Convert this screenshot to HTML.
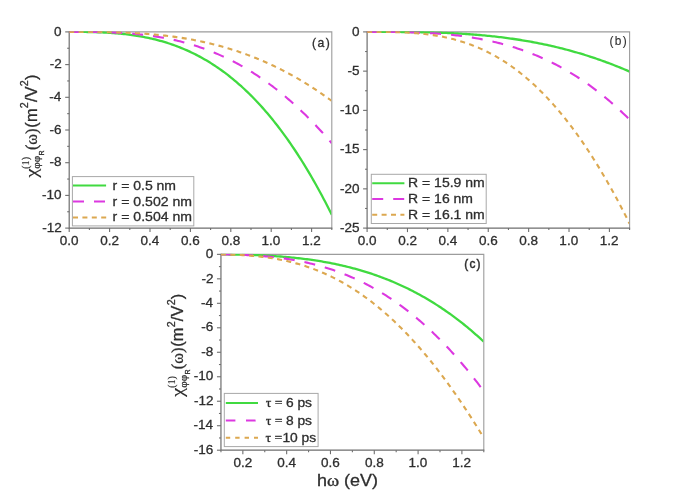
<!DOCTYPE html>
<html><head><meta charset="utf-8"><style>
html,body{margin:0;padding:0;background:#fff;overflow:hidden;}
svg{display:block;filter:blur(0.3px);}
text{stroke:#2e2e2e;stroke-width:0.3px;}
</style></head><body>
<svg width="685" height="496" viewBox="0 0 685 496">
<defs><clipPath id="clipa"><rect x="69.2" y="31.299999999999997" width="262.05" height="196.79999999999998"/></clipPath><clipPath id="clipb"><rect x="367.1" y="31.299999999999997" width="261.95" height="196.79999999999998"/></clipPath><clipPath id="clipc"><rect x="220.95" y="253.75" width="262.30" height="196.45"/></clipPath></defs>
<rect width="685" height="496" fill="#fff"/>
<path d="M69.2,31.9H331.8V228.1" fill="none" stroke="#9c9c9c" stroke-width="1.1"/>
<path d="M69.2,31.4V228.1H332.3" fill="none" stroke="#6e6e6e" stroke-width="1.2"/>
<g clip-path="url(#clipa)">
<polyline points="69.20,31.90 70.85,31.90 72.50,31.90 74.15,31.90 75.81,31.91 77.46,31.91 79.11,31.92 80.76,31.93 82.41,31.94 84.06,31.96 85.72,31.97 87.37,32.00 89.02,32.02 90.67,32.05 92.32,32.09 93.97,32.13 95.63,32.18 97.28,32.23 98.93,32.28 100.58,32.35 102.23,32.42 103.88,32.49 105.53,32.57 107.19,32.66 108.84,32.76 110.49,32.86 112.14,32.98 113.79,33.10 115.44,33.23 117.10,33.36 118.75,33.51 120.40,33.66 122.05,33.83 123.70,34.00 125.35,34.19 127.01,34.38 128.66,34.59 130.31,34.80 131.96,35.03 133.61,35.26 135.26,35.51 136.91,35.77 138.57,36.05 140.22,36.33 141.87,36.63 143.52,36.93 145.17,37.26 146.82,37.59 148.48,37.94 150.13,38.30 151.78,38.68 153.43,39.07 155.08,39.47 156.73,39.89 158.38,40.32 160.04,40.77 161.69,41.23 163.34,41.71 164.99,42.20 166.64,42.71 168.29,43.24 169.95,43.78 171.60,44.34 173.25,44.92 174.90,45.51 176.55,46.12 178.20,46.75 179.86,47.40 181.51,48.06 183.16,48.74 184.81,49.44 186.46,50.16 188.11,50.90 189.76,51.66 191.42,52.44 193.07,53.24 194.72,54.05 196.37,54.89 198.02,55.75 199.67,56.63 201.33,57.52 202.98,58.44 204.63,59.39 206.28,60.35 207.93,61.33 209.58,62.34 211.24,63.37 212.89,64.42 214.54,65.50 216.19,66.60 217.84,67.72 219.49,68.86 221.14,70.03 222.80,71.22 224.45,72.44 226.10,73.68 227.75,74.94 229.40,76.23 231.05,77.55 232.71,78.89 234.36,80.26 236.01,81.65 237.66,83.07 239.31,84.51 240.96,85.98 242.62,87.48 244.27,89.00 245.92,90.56 247.57,92.14 249.22,93.74 250.87,95.38 252.52,97.04 254.18,98.73 255.83,100.45 257.48,102.20 259.13,103.98 260.78,105.79 262.43,107.63 264.09,109.50 265.74,111.40 267.39,113.32 269.04,115.28 270.69,117.27 272.34,119.29 273.99,121.35 275.65,123.43 277.30,125.54 278.95,127.69 280.60,129.87 282.25,132.08 283.90,134.33 285.56,136.61 287.21,138.92 288.86,141.27 290.51,143.64 292.16,146.06 293.81,148.50 295.47,150.99 297.12,153.50 298.77,156.05 300.42,158.64 302.07,161.26 303.72,163.92 305.37,166.61 307.03,169.34 308.68,172.11 310.33,174.91 311.98,177.75 313.63,180.63 315.28,183.54 316.94,186.50 318.59,189.49 320.24,192.51 321.89,195.58 323.54,198.69 325.19,201.83 326.85,205.01 328.50,208.24 330.15,211.50 331.80,214.80" fill="none" stroke="#40da40" stroke-width="2.3"/>
<polyline points="69.20,31.90 70.85,31.90 72.50,31.90 74.15,31.90 75.81,31.90 77.46,31.90 79.11,31.91 80.76,31.91 82.41,31.92 84.06,31.92 85.72,31.93 87.37,31.94 89.02,31.96 90.67,31.97 92.32,31.99 93.97,32.01 95.63,32.03 97.28,32.06 98.93,32.09 100.58,32.12 102.23,32.16 103.88,32.20 105.53,32.24 107.19,32.29 108.84,32.35 110.49,32.40 112.14,32.47 113.79,32.54 115.44,32.61 117.10,32.69 118.75,32.77 120.40,32.86 122.05,32.96 123.70,33.06 125.35,33.17 127.01,33.28 128.66,33.40 130.31,33.53 131.96,33.66 133.61,33.81 135.26,33.96 136.91,34.11 138.57,34.28 140.22,34.45 141.87,34.63 143.52,34.82 145.17,35.01 146.82,35.22 148.48,35.43 150.13,35.65 151.78,35.88 153.43,36.12 155.08,36.37 156.73,36.63 158.38,36.90 160.04,37.18 161.69,37.47 163.34,37.76 164.99,38.07 166.64,38.39 168.29,38.72 169.95,39.06 171.60,39.41 173.25,39.77 174.90,40.14 176.55,40.53 178.20,40.92 179.86,41.33 181.51,41.74 183.16,42.17 184.81,42.62 186.46,43.07 188.11,43.53 189.76,44.01 191.42,44.50 193.07,45.01 194.72,45.52 196.37,46.05 198.02,46.59 199.67,47.14 201.33,47.71 202.98,48.29 204.63,48.89 206.28,49.49 207.93,50.11 209.58,50.75 211.24,51.40 212.89,52.06 214.54,52.74 216.19,53.43 217.84,54.14 219.49,54.86 221.14,55.59 222.80,56.34 224.45,57.11 226.10,57.89 227.75,58.68 229.40,59.49 231.05,60.32 232.71,61.16 234.36,62.01 236.01,62.88 237.66,63.77 239.31,64.68 240.96,65.59 242.62,66.53 244.27,67.48 245.92,68.45 247.57,69.43 249.22,70.43 250.87,71.45 252.52,72.48 254.18,73.53 255.83,74.60 257.48,75.68 259.13,76.78 260.78,77.90 262.43,79.04 264.09,80.19 265.74,81.36 267.39,82.55 269.04,83.75 270.69,84.97 272.34,86.21 273.99,87.47 275.65,88.75 277.30,90.04 278.95,91.35 280.60,92.68 282.25,94.03 283.90,95.39 285.56,96.78 287.21,98.18 288.86,99.60 290.51,101.04 292.16,102.50 293.81,103.98 295.47,105.47 297.12,106.99 298.77,108.52 300.42,110.07 302.07,111.65 303.72,113.24 305.37,114.85 307.03,116.48 308.68,118.13 310.33,119.79 311.98,121.48 313.63,123.19 315.28,124.91 316.94,126.66 318.59,128.43 320.24,130.21 321.89,132.02 323.54,133.84 325.19,135.69 326.85,137.56 328.50,139.44 330.15,141.35 331.80,143.27" fill="none" stroke="#dc38e0" stroke-width="2.1" stroke-dasharray="11 10"/>
<polyline points="69.20,31.90 70.85,31.90 72.50,31.90 74.15,31.90 75.81,31.90 77.46,31.90 79.11,31.90 80.76,31.91 82.41,31.91 84.06,31.91 85.72,31.92 87.37,31.92 89.02,31.93 90.67,31.94 92.32,31.95 93.97,31.96 95.63,31.98 97.28,31.99 98.93,32.01 100.58,32.03 102.23,32.05 103.88,32.08 105.53,32.10 107.19,32.13 108.84,32.16 110.49,32.20 112.14,32.24 113.79,32.28 115.44,32.32 117.10,32.37 118.75,32.42 120.40,32.47 122.05,32.53 123.70,32.59 125.35,32.65 127.01,32.72 128.66,32.80 130.31,32.87 131.96,32.95 133.61,33.04 135.26,33.13 136.91,33.22 138.57,33.32 140.22,33.42 141.87,33.53 143.52,33.65 145.17,33.77 146.82,33.89 148.48,34.02 150.13,34.15 151.78,34.29 153.43,34.44 155.08,34.59 156.73,34.74 158.38,34.91 160.04,35.08 161.69,35.25 163.34,35.43 164.99,35.62 166.64,35.81 168.29,36.01 169.95,36.22 171.60,36.43 173.25,36.65 174.90,36.88 176.55,37.11 178.20,37.35 179.86,37.60 181.51,37.85 183.16,38.11 184.81,38.38 186.46,38.66 188.11,38.94 189.76,39.23 191.42,39.53 193.07,39.84 194.72,40.16 196.37,40.48 198.02,40.81 199.67,41.15 201.33,41.50 202.98,41.85 204.63,42.22 206.28,42.59 207.93,42.97 209.58,43.36 211.24,43.76 212.89,44.16 214.54,44.58 216.19,45.00 217.84,45.44 219.49,45.88 221.14,46.33 222.80,46.79 224.45,47.26 226.10,47.74 227.75,48.23 229.40,48.73 231.05,49.24 232.71,49.76 234.36,50.29 236.01,50.82 237.66,51.37 239.31,51.93 240.96,52.50 242.62,53.07 244.27,53.66 245.92,54.26 247.57,54.87 249.22,55.49 250.87,56.12 252.52,56.76 254.18,57.41 255.83,58.07 257.48,58.74 259.13,59.42 260.78,60.11 262.43,60.82 264.09,61.53 265.74,62.26 267.39,62.99 269.04,63.74 270.69,64.50 272.34,65.27 273.99,66.05 275.65,66.85 277.30,67.65 278.95,68.47 280.60,69.29 282.25,70.13 283.90,70.98 285.56,71.85 287.21,72.72 288.86,73.61 290.51,74.50 292.16,75.41 293.81,76.33 295.47,77.27 297.12,78.21 298.77,79.17 300.42,80.14 302.07,81.12 303.72,82.12 305.37,83.12 307.03,84.14 308.68,85.18 310.33,86.22 311.98,87.28 313.63,88.34 315.28,89.43 316.94,90.52 318.59,91.63 320.24,92.75 321.89,93.88 323.54,95.03 325.19,96.18 326.85,97.35 328.50,98.54 330.15,99.74 331.80,100.95" fill="none" stroke="#dca850" stroke-width="2.1" stroke-dasharray="5 4.4"/>
</g>
<line x1="65.2" y1="31.90" x2="69.2" y2="31.90" stroke="#6e6e6e" stroke-width="1.1"/>
<text transform="translate(54.01,35.60) scale(1.0400,1)" fill="#2e2e2e" ><tspan y="0.00" font-family='"Liberation Sans", sans-serif' font-size="13.0">0</tspan></text>
<line x1="67.2" y1="48.25" x2="69.2" y2="48.25" stroke="#6e6e6e" stroke-width="1.1"/>
<line x1="65.2" y1="64.60" x2="69.2" y2="64.60" stroke="#6e6e6e" stroke-width="1.1"/>
<text transform="translate(49.66,68.30) scale(1.0400,1)" fill="#2e2e2e" ><tspan y="0.00" font-family='"Liberation Sans", sans-serif' font-size="13.0">-2</tspan></text>
<line x1="67.2" y1="80.95" x2="69.2" y2="80.95" stroke="#6e6e6e" stroke-width="1.1"/>
<line x1="65.2" y1="97.30" x2="69.2" y2="97.30" stroke="#6e6e6e" stroke-width="1.1"/>
<text transform="translate(49.37,101.00) scale(1.0400,1)" fill="#2e2e2e" ><tspan y="0.00" font-family='"Liberation Sans", sans-serif' font-size="13.0">-4</tspan></text>
<line x1="67.2" y1="113.65" x2="69.2" y2="113.65" stroke="#6e6e6e" stroke-width="1.1"/>
<line x1="65.2" y1="130.00" x2="69.2" y2="130.00" stroke="#6e6e6e" stroke-width="1.1"/>
<text transform="translate(49.57,133.70) scale(1.0400,1)" fill="#2e2e2e" ><tspan y="0.00" font-family='"Liberation Sans", sans-serif' font-size="13.0">-6</tspan></text>
<line x1="67.2" y1="146.35" x2="69.2" y2="146.35" stroke="#6e6e6e" stroke-width="1.1"/>
<line x1="65.2" y1="162.70" x2="69.2" y2="162.70" stroke="#6e6e6e" stroke-width="1.1"/>
<text transform="translate(49.57,166.40) scale(1.0400,1)" fill="#2e2e2e" ><tspan y="0.00" font-family='"Liberation Sans", sans-serif' font-size="13.0">-8</tspan></text>
<line x1="67.2" y1="179.05" x2="69.2" y2="179.05" stroke="#6e6e6e" stroke-width="1.1"/>
<line x1="65.2" y1="195.40" x2="69.2" y2="195.40" stroke="#6e6e6e" stroke-width="1.1"/>
<text transform="translate(41.99,199.10) scale(1.0400,1)" fill="#2e2e2e" ><tspan y="0.00" font-family='"Liberation Sans", sans-serif' font-size="13.0">-10</tspan></text>
<line x1="67.2" y1="211.75" x2="69.2" y2="211.75" stroke="#6e6e6e" stroke-width="1.1"/>
<line x1="65.2" y1="228.10" x2="69.2" y2="228.10" stroke="#6e6e6e" stroke-width="1.1"/>
<text transform="translate(42.14,231.80) scale(1.0400,1)" fill="#2e2e2e" ><tspan y="0.00" font-family='"Liberation Sans", sans-serif' font-size="13.0">-12</tspan></text>
<line x1="69.20" y1="228.1" x2="69.20" y2="232.1" stroke="#6e6e6e" stroke-width="1.1"/>
<text transform="translate(59.80,244.50) scale(1.0400,1)" fill="#2e2e2e" ><tspan y="0.00" font-family='"Liberation Sans", sans-serif' font-size="13.0">0.0</tspan></text>
<line x1="89.40" y1="228.1" x2="89.40" y2="230.1" stroke="#6e6e6e" stroke-width="1.1"/>
<line x1="109.60" y1="228.1" x2="109.60" y2="232.1" stroke="#6e6e6e" stroke-width="1.1"/>
<text transform="translate(100.28,244.50) scale(1.0400,1)" fill="#2e2e2e" ><tspan y="0.00" font-family='"Liberation Sans", sans-serif' font-size="13.0">0.2</tspan></text>
<line x1="129.80" y1="228.1" x2="129.80" y2="230.1" stroke="#6e6e6e" stroke-width="1.1"/>
<line x1="150.00" y1="228.1" x2="150.00" y2="232.1" stroke="#6e6e6e" stroke-width="1.1"/>
<text transform="translate(140.54,244.50) scale(1.0400,1)" fill="#2e2e2e" ><tspan y="0.00" font-family='"Liberation Sans", sans-serif' font-size="13.0">0.4</tspan></text>
<line x1="170.20" y1="228.1" x2="170.20" y2="230.1" stroke="#6e6e6e" stroke-width="1.1"/>
<line x1="190.40" y1="228.1" x2="190.40" y2="232.1" stroke="#6e6e6e" stroke-width="1.1"/>
<text transform="translate(181.04,244.50) scale(1.0400,1)" fill="#2e2e2e" ><tspan y="0.00" font-family='"Liberation Sans", sans-serif' font-size="13.0">0.6</tspan></text>
<line x1="210.60" y1="228.1" x2="210.60" y2="230.1" stroke="#6e6e6e" stroke-width="1.1"/>
<line x1="230.80" y1="228.1" x2="230.80" y2="232.1" stroke="#6e6e6e" stroke-width="1.1"/>
<text transform="translate(221.43,244.50) scale(1.0400,1)" fill="#2e2e2e" ><tspan y="0.00" font-family='"Liberation Sans", sans-serif' font-size="13.0">0.8</tspan></text>
<line x1="251.00" y1="228.1" x2="251.00" y2="230.1" stroke="#6e6e6e" stroke-width="1.1"/>
<line x1="271.20" y1="228.1" x2="271.20" y2="232.1" stroke="#6e6e6e" stroke-width="1.1"/>
<text transform="translate(261.55,244.50) scale(1.0400,1)" fill="#2e2e2e" ><tspan y="0.00" font-family='"Liberation Sans", sans-serif' font-size="13.0">1.0</tspan></text>
<line x1="291.40" y1="228.1" x2="291.40" y2="230.1" stroke="#6e6e6e" stroke-width="1.1"/>
<line x1="311.60" y1="228.1" x2="311.60" y2="232.1" stroke="#6e6e6e" stroke-width="1.1"/>
<text transform="translate(302.03,244.50) scale(1.0400,1)" fill="#2e2e2e" ><tspan y="0.00" font-family='"Liberation Sans", sans-serif' font-size="13.0">1.2</tspan></text>
<line x1="331.80" y1="228.1" x2="331.80" y2="230.1" stroke="#6e6e6e" stroke-width="1.1"/>
<path d="M367.1,31.9H629.6V228.1" fill="none" stroke="#9c9c9c" stroke-width="1.1"/>
<path d="M367.1,31.4V228.1H630.1" fill="none" stroke="#6e6e6e" stroke-width="1.2"/>
<g clip-path="url(#clipb)">
<polyline points="367.10,31.90 368.75,31.90 370.40,31.90 372.05,31.90 373.70,31.90 375.35,31.90 377.01,31.90 378.66,31.90 380.31,31.90 381.96,31.91 383.61,31.91 385.26,31.91 386.91,31.91 388.56,31.92 390.21,31.92 391.86,31.93 393.52,31.93 395.17,31.94 396.82,31.95 398.47,31.96 400.12,31.97 401.77,31.98 403.42,31.99 405.07,32.00 406.72,32.02 408.37,32.04 410.02,32.05 411.68,32.07 413.33,32.09 414.98,32.12 416.63,32.14 418.28,32.17 419.93,32.20 421.58,32.23 423.23,32.26 424.88,32.29 426.53,32.33 428.18,32.37 429.84,32.41 431.49,32.45 433.14,32.50 434.79,32.55 436.44,32.60 438.09,32.65 439.74,32.71 441.39,32.76 443.04,32.83 444.69,32.89 446.35,32.96 448.00,33.03 449.65,33.10 451.30,33.18 452.95,33.26 454.60,33.34 456.25,33.43 457.90,33.52 459.55,33.61 461.20,33.71 462.85,33.81 464.51,33.91 466.16,34.02 467.81,34.13 469.46,34.24 471.11,34.36 472.76,34.48 474.41,34.61 476.06,34.74 477.71,34.88 479.36,35.02 481.02,35.16 482.67,35.31 484.32,35.46 485.97,35.62 487.62,35.78 489.27,35.94 490.92,36.11 492.57,36.29 494.22,36.46 495.87,36.65 497.52,36.84 499.18,37.03 500.83,37.23 502.48,37.43 504.13,37.64 505.78,37.85 507.43,38.07 509.08,38.30 510.73,38.53 512.38,38.76 514.03,39.00 515.68,39.24 517.34,39.49 518.99,39.75 520.64,40.01 522.29,40.28 523.94,40.55 525.59,40.83 527.24,41.11 528.89,41.40 530.54,41.70 532.19,42.00 533.85,42.30 535.50,42.62 537.15,42.94 538.80,43.26 540.45,43.59 542.10,43.93 543.75,44.27 545.40,44.62 547.05,44.98 548.70,45.34 550.35,45.71 552.01,46.08 553.66,46.47 555.31,46.85 556.96,47.25 558.61,47.65 560.26,48.06 561.91,48.47 563.56,48.89 565.21,49.32 566.86,49.75 568.52,50.19 570.17,50.64 571.82,51.10 573.47,51.56 575.12,52.03 576.77,52.50 578.42,52.98 580.07,53.47 581.72,53.97 583.37,54.47 585.02,54.99 586.68,55.50 588.33,56.03 589.98,56.56 591.63,57.10 593.28,57.65 594.93,58.20 596.58,58.77 598.23,59.34 599.88,59.91 601.53,60.50 603.18,61.09 604.84,61.69 606.49,62.30 608.14,62.91 609.79,63.53 611.44,64.16 613.09,64.80 614.74,65.45 616.39,66.10 618.04,66.76 619.69,67.43 621.35,68.11 623.00,68.79 624.65,69.48 626.30,70.18 627.95,70.89 629.60,71.61" fill="none" stroke="#40da40" stroke-width="2.3"/>
<polyline points="367.10,31.90 368.75,31.90 370.40,31.90 372.05,31.90 373.70,31.90 375.35,31.90 377.01,31.90 378.66,31.91 380.31,31.91 381.96,31.92 383.61,31.92 385.26,31.93 386.91,31.94 388.56,31.95 390.21,31.96 391.86,31.97 393.52,31.99 395.17,32.01 396.82,32.03 398.47,32.05 400.12,32.08 401.77,32.10 403.42,32.13 405.07,32.17 406.72,32.20 408.37,32.24 410.02,32.29 411.68,32.33 413.33,32.38 414.98,32.44 416.63,32.49 418.28,32.55 419.93,32.62 421.58,32.69 423.23,32.76 424.88,32.84 426.53,32.92 428.18,33.01 429.84,33.10 431.49,33.20 433.14,33.30 434.79,33.41 436.44,33.53 438.09,33.64 439.74,33.77 441.39,33.90 443.04,34.04 444.69,34.18 446.35,34.33 448.00,34.48 449.65,34.64 451.30,34.81 452.95,34.98 454.60,35.17 456.25,35.35 457.90,35.55 459.55,35.75 461.20,35.96 462.85,36.18 464.51,36.40 466.16,36.64 467.81,36.88 469.46,37.13 471.11,37.38 472.76,37.65 474.41,37.92 476.06,38.20 477.71,38.49 479.36,38.79 481.02,39.10 482.67,39.42 484.32,39.75 485.97,40.08 487.62,40.43 489.27,40.78 490.92,41.15 492.57,41.52 494.22,41.90 495.87,42.30 497.52,42.70 499.18,43.12 500.83,43.54 502.48,43.98 504.13,44.43 505.78,44.88 507.43,45.35 509.08,45.83 510.73,46.32 512.38,46.83 514.03,47.34 515.68,47.87 517.34,48.40 518.99,48.95 520.64,49.51 522.29,50.09 523.94,50.67 525.59,51.27 527.24,51.88 528.89,52.51 530.54,53.14 532.19,53.79 533.85,54.45 535.50,55.13 537.15,55.82 538.80,56.52 540.45,57.24 542.10,57.97 543.75,58.71 545.40,59.47 547.05,60.24 548.70,61.02 550.35,61.82 552.01,62.64 553.66,63.47 555.31,64.31 556.96,65.17 558.61,66.04 560.26,66.93 561.91,67.84 563.56,68.76 565.21,69.69 566.86,70.64 568.52,71.61 570.17,72.59 571.82,73.59 573.47,74.60 575.12,75.63 576.77,76.68 578.42,77.75 580.07,78.83 581.72,79.92 583.37,81.04 585.02,82.17 586.68,83.32 588.33,84.48 589.98,85.67 591.63,86.87 593.28,88.09 594.93,89.32 596.58,90.58 598.23,91.85 599.88,93.14 601.53,94.45 603.18,95.78 604.84,97.12 606.49,98.49 608.14,99.87 609.79,101.27 611.44,102.70 613.09,104.14 614.74,105.60 616.39,107.08 618.04,108.58 619.69,110.10 621.35,111.63 623.00,113.19 624.65,114.77 626.30,116.37 627.95,117.99 629.60,119.63" fill="none" stroke="#dc38e0" stroke-width="2.1" stroke-dasharray="11 10"/>
<polyline points="367.10,31.90 368.75,31.90 370.40,31.90 372.05,31.90 373.70,31.90 375.35,31.90 377.01,31.91 378.66,31.91 380.31,31.92 381.96,31.93 383.61,31.94 385.26,31.96 386.91,31.97 388.56,31.99 390.21,32.02 391.86,32.05 393.52,32.08 395.17,32.12 396.82,32.16 398.47,32.21 400.12,32.27 401.77,32.33 403.42,32.40 405.07,32.47 406.72,32.55 408.37,32.64 410.02,32.74 411.68,32.84 413.33,32.96 414.98,33.08 416.63,33.21 418.28,33.35 419.93,33.50 421.58,33.67 423.23,33.84 424.88,34.02 426.53,34.21 428.18,34.42 429.84,34.64 431.49,34.87 433.14,35.11 434.79,35.36 436.44,35.63 438.09,35.91 439.74,36.20 441.39,36.51 443.04,36.84 444.69,37.17 446.35,37.53 448.00,37.89 449.65,38.28 451.30,38.68 452.95,39.09 454.60,39.52 456.25,39.97 457.90,40.44 459.55,40.92 461.20,41.42 462.85,41.94 464.51,42.47 466.16,43.02 467.81,43.60 469.46,44.19 471.11,44.80 472.76,45.43 474.41,46.08 476.06,46.75 477.71,47.44 479.36,48.15 481.02,48.88 482.67,49.63 484.32,50.40 485.97,51.20 487.62,52.01 489.27,52.85 490.92,53.71 492.57,54.60 494.22,55.50 495.87,56.43 497.52,57.38 499.18,58.35 500.83,59.35 502.48,60.37 504.13,61.42 505.78,62.49 507.43,63.58 509.08,64.70 510.73,65.84 512.38,67.01 514.03,68.21 515.68,69.42 517.34,70.67 518.99,71.94 520.64,73.24 522.29,74.56 523.94,75.91 525.59,77.28 527.24,78.68 528.89,80.11 530.54,81.57 532.19,83.05 533.85,84.56 535.50,86.10 537.15,87.67 538.80,89.26 540.45,90.88 542.10,92.53 543.75,94.21 545.40,95.92 547.05,97.65 548.70,99.42 550.35,101.21 552.01,103.03 553.66,104.88 555.31,106.76 556.96,108.67 558.61,110.62 560.26,112.59 561.91,114.59 563.56,116.62 565.21,118.68 566.86,120.77 568.52,122.89 570.17,125.04 571.82,127.22 573.47,129.44 575.12,131.68 576.77,133.95 578.42,136.26 580.07,138.60 581.72,140.97 583.37,143.37 585.02,145.80 586.68,148.26 588.33,150.76 589.98,153.29 591.63,155.84 593.28,158.44 594.93,161.06 596.58,163.71 598.23,166.40 599.88,169.12 601.53,171.87 603.18,174.66 604.84,177.48 606.49,180.33 608.14,183.21 609.79,186.13 611.44,189.08 613.09,192.06 614.74,195.07 616.39,198.12 618.04,201.20 619.69,204.31 621.35,207.46 623.00,210.64 624.65,213.86 626.30,217.10 627.95,220.38 629.60,223.70" fill="none" stroke="#dca850" stroke-width="2.1" stroke-dasharray="5 4.4"/>
</g>
<line x1="363.1" y1="31.90" x2="367.1" y2="31.90" stroke="#6e6e6e" stroke-width="1.1"/>
<text transform="translate(351.91,35.60) scale(1.0400,1)" fill="#2e2e2e" ><tspan y="0.00" font-family='"Liberation Sans", sans-serif' font-size="13.0">0</tspan></text>
<line x1="365.1" y1="51.52" x2="367.1" y2="51.52" stroke="#6e6e6e" stroke-width="1.1"/>
<line x1="363.1" y1="71.14" x2="367.1" y2="71.14" stroke="#6e6e6e" stroke-width="1.1"/>
<text transform="translate(347.45,74.84) scale(1.0400,1)" fill="#2e2e2e" ><tspan y="0.00" font-family='"Liberation Sans", sans-serif' font-size="13.0">-5</tspan></text>
<line x1="365.1" y1="90.76" x2="367.1" y2="90.76" stroke="#6e6e6e" stroke-width="1.1"/>
<line x1="363.1" y1="110.38" x2="367.1" y2="110.38" stroke="#6e6e6e" stroke-width="1.1"/>
<text transform="translate(339.89,114.08) scale(1.0400,1)" fill="#2e2e2e" ><tspan y="0.00" font-family='"Liberation Sans", sans-serif' font-size="13.0">-10</tspan></text>
<line x1="365.1" y1="130.00" x2="367.1" y2="130.00" stroke="#6e6e6e" stroke-width="1.1"/>
<line x1="363.1" y1="149.62" x2="367.1" y2="149.62" stroke="#6e6e6e" stroke-width="1.1"/>
<text transform="translate(339.93,153.32) scale(1.0400,1)" fill="#2e2e2e" ><tspan y="0.00" font-family='"Liberation Sans", sans-serif' font-size="13.0">-15</tspan></text>
<line x1="365.1" y1="169.24" x2="367.1" y2="169.24" stroke="#6e6e6e" stroke-width="1.1"/>
<line x1="363.1" y1="188.86" x2="367.1" y2="188.86" stroke="#6e6e6e" stroke-width="1.1"/>
<text transform="translate(339.89,192.56) scale(1.0400,1)" fill="#2e2e2e" ><tspan y="0.00" font-family='"Liberation Sans", sans-serif' font-size="13.0">-20</tspan></text>
<line x1="365.1" y1="208.48" x2="367.1" y2="208.48" stroke="#6e6e6e" stroke-width="1.1"/>
<line x1="363.1" y1="228.10" x2="367.1" y2="228.10" stroke="#6e6e6e" stroke-width="1.1"/>
<text transform="translate(339.93,231.80) scale(1.0400,1)" fill="#2e2e2e" ><tspan y="0.00" font-family='"Liberation Sans", sans-serif' font-size="13.0">-25</tspan></text>
<line x1="367.10" y1="228.1" x2="367.10" y2="232.1" stroke="#6e6e6e" stroke-width="1.1"/>
<text transform="translate(357.70,244.50) scale(1.0400,1)" fill="#2e2e2e" ><tspan y="0.00" font-family='"Liberation Sans", sans-serif' font-size="13.0">0.0</tspan></text>
<line x1="387.29" y1="228.1" x2="387.29" y2="230.1" stroke="#6e6e6e" stroke-width="1.1"/>
<line x1="407.48" y1="228.1" x2="407.48" y2="232.1" stroke="#6e6e6e" stroke-width="1.1"/>
<text transform="translate(398.16,244.50) scale(1.0400,1)" fill="#2e2e2e" ><tspan y="0.00" font-family='"Liberation Sans", sans-serif' font-size="13.0">0.2</tspan></text>
<line x1="427.68" y1="228.1" x2="427.68" y2="230.1" stroke="#6e6e6e" stroke-width="1.1"/>
<line x1="447.87" y1="228.1" x2="447.87" y2="232.1" stroke="#6e6e6e" stroke-width="1.1"/>
<text transform="translate(438.41,244.50) scale(1.0400,1)" fill="#2e2e2e" ><tspan y="0.00" font-family='"Liberation Sans", sans-serif' font-size="13.0">0.4</tspan></text>
<line x1="468.06" y1="228.1" x2="468.06" y2="230.1" stroke="#6e6e6e" stroke-width="1.1"/>
<line x1="488.25" y1="228.1" x2="488.25" y2="232.1" stroke="#6e6e6e" stroke-width="1.1"/>
<text transform="translate(478.89,244.50) scale(1.0400,1)" fill="#2e2e2e" ><tspan y="0.00" font-family='"Liberation Sans", sans-serif' font-size="13.0">0.6</tspan></text>
<line x1="508.45" y1="228.1" x2="508.45" y2="230.1" stroke="#6e6e6e" stroke-width="1.1"/>
<line x1="528.64" y1="228.1" x2="528.64" y2="232.1" stroke="#6e6e6e" stroke-width="1.1"/>
<text transform="translate(519.27,244.50) scale(1.0400,1)" fill="#2e2e2e" ><tspan y="0.00" font-family='"Liberation Sans", sans-serif' font-size="13.0">0.8</tspan></text>
<line x1="548.83" y1="228.1" x2="548.83" y2="230.1" stroke="#6e6e6e" stroke-width="1.1"/>
<line x1="569.02" y1="228.1" x2="569.02" y2="232.1" stroke="#6e6e6e" stroke-width="1.1"/>
<text transform="translate(559.37,244.50) scale(1.0400,1)" fill="#2e2e2e" ><tspan y="0.00" font-family='"Liberation Sans", sans-serif' font-size="13.0">1.0</tspan></text>
<line x1="589.22" y1="228.1" x2="589.22" y2="230.1" stroke="#6e6e6e" stroke-width="1.1"/>
<line x1="609.41" y1="228.1" x2="609.41" y2="232.1" stroke="#6e6e6e" stroke-width="1.1"/>
<text transform="translate(599.84,244.50) scale(1.0400,1)" fill="#2e2e2e" ><tspan y="0.00" font-family='"Liberation Sans", sans-serif' font-size="13.0">1.2</tspan></text>
<line x1="629.60" y1="228.1" x2="629.60" y2="230.1" stroke="#6e6e6e" stroke-width="1.1"/>
<path d="M220.95,254.35H483.8V450.2" fill="none" stroke="#9c9c9c" stroke-width="1.1"/>
<path d="M220.95,253.85V450.2H484.3" fill="none" stroke="#6e6e6e" stroke-width="1.2"/>
<g clip-path="url(#clipc)">
<polyline points="220.95,254.40 222.60,254.41 224.26,254.43 225.91,254.44 227.56,254.46 229.22,254.48 230.87,254.50 232.52,254.52 234.18,254.55 235.83,254.57 237.48,254.60 239.13,254.63 240.79,254.67 242.44,254.71 244.09,254.75 245.75,254.79 247.40,254.84 249.05,254.89 250.71,254.94 252.36,254.99 254.01,255.05 255.67,255.11 257.32,255.18 258.97,255.25 260.63,255.32 262.28,255.40 263.93,255.48 265.58,255.56 267.24,255.65 268.89,255.75 270.54,255.84 272.20,255.94 273.85,256.05 275.50,256.16 277.16,256.28 278.81,256.40 280.46,256.52 282.12,256.65 283.77,256.78 285.42,256.92 287.08,257.07 288.73,257.22 290.38,257.38 292.04,257.54 293.69,257.70 295.34,257.88 296.99,258.05 298.65,258.24 300.30,258.43 301.95,258.63 303.61,258.83 305.26,259.04 306.91,259.25 308.57,259.47 310.22,259.70 311.87,259.94 313.53,260.18 315.18,260.43 316.83,260.68 318.49,260.95 320.14,261.22 321.79,261.49 323.44,261.78 325.10,262.07 326.75,262.37 328.40,262.68 330.06,262.99 331.71,263.32 333.36,263.65 335.02,263.99 336.67,264.33 338.32,264.69 339.98,265.05 341.63,265.43 343.28,265.81 344.94,266.20 346.59,266.60 348.24,267.00 349.90,267.42 351.55,267.85 353.20,268.28 354.85,268.73 356.51,269.18 358.16,269.64 359.81,270.12 361.47,270.60 363.12,271.10 364.77,271.60 366.43,272.11 368.08,272.64 369.73,273.17 371.39,273.71 373.04,274.27 374.69,274.83 376.35,275.41 378.00,276.00 379.65,276.60 381.31,277.21 382.96,277.83 384.61,278.46 386.26,279.10 387.92,279.76 389.57,280.43 391.22,281.11 392.88,281.80 394.53,282.50 396.18,283.22 397.84,283.94 399.49,284.68 401.14,285.43 402.80,286.20 404.45,286.98 406.10,287.77 407.76,288.57 409.41,289.39 411.06,290.22 412.71,291.06 414.37,291.92 416.02,292.79 417.67,293.68 419.33,294.57 420.98,295.49 422.63,296.41 424.29,297.35 425.94,298.31 427.59,299.28 429.25,300.26 430.90,301.26 432.55,302.27 434.21,303.30 435.86,304.35 437.51,305.40 439.17,306.48 440.82,307.57 442.47,308.67 444.12,309.80 445.78,310.93 447.43,312.09 449.08,313.25 450.74,314.44 452.39,315.64 454.04,316.86 455.70,318.09 457.35,319.35 459.00,320.62 460.66,321.90 462.31,323.20 463.96,324.52 465.62,325.86 467.27,327.22 468.92,328.59 470.57,329.98 472.23,331.39 473.88,332.82 475.53,334.26 477.19,335.73 478.84,337.21 480.49,338.71 482.15,340.23 483.80,341.77" fill="none" stroke="#40da40" stroke-width="2.3"/>
<polyline points="220.95,254.42 222.60,254.44 224.26,254.46 225.91,254.48 227.56,254.51 229.22,254.54 230.87,254.57 232.52,254.60 234.18,254.64 235.83,254.69 237.48,254.73 239.13,254.79 240.79,254.84 242.44,254.90 244.09,254.97 245.75,255.04 247.40,255.11 249.05,255.20 250.71,255.28 252.36,255.37 254.01,255.47 255.67,255.57 257.32,255.68 258.97,255.80 260.63,255.92 262.28,256.05 263.93,256.19 265.58,256.33 267.24,256.48 268.89,256.64 270.54,256.80 272.20,256.97 273.85,257.15 275.50,257.34 277.16,257.54 278.81,257.74 280.46,257.96 282.12,258.18 283.77,258.41 285.42,258.65 287.08,258.89 288.73,259.15 290.38,259.42 292.04,259.69 293.69,259.98 295.34,260.27 296.99,260.58 298.65,260.89 300.30,261.22 301.95,261.56 303.61,261.90 305.26,262.26 306.91,262.63 308.57,263.01 310.22,263.40 311.87,263.80 313.53,264.21 315.18,264.64 316.83,265.07 318.49,265.52 320.14,265.98 321.79,266.45 323.44,266.93 325.10,267.43 326.75,267.94 328.40,268.46 330.06,269.00 331.71,269.54 333.36,270.10 335.02,270.68 336.67,271.27 338.32,271.87 339.98,272.48 341.63,273.11 343.28,273.75 344.94,274.41 346.59,275.08 348.24,275.76 349.90,276.46 351.55,277.17 353.20,277.90 354.85,278.64 356.51,279.40 358.16,280.17 359.81,280.96 361.47,281.76 363.12,282.58 364.77,283.41 366.43,284.26 368.08,285.12 369.73,286.01 371.39,286.90 373.04,287.81 374.69,288.74 376.35,289.69 378.00,290.65 379.65,291.63 381.31,292.62 382.96,293.63 384.61,294.66 386.26,295.71 387.92,296.77 389.57,297.85 391.22,298.95 392.88,300.06 394.53,301.20 396.18,302.35 397.84,303.51 399.49,304.70 401.14,305.90 402.80,307.12 404.45,308.36 406.10,309.62 407.76,310.90 409.41,312.19 411.06,313.51 412.71,314.84 414.37,316.19 416.02,317.56 417.67,318.95 419.33,320.36 420.98,321.79 422.63,323.23 424.29,324.70 425.94,326.18 427.59,327.69 429.25,329.21 430.90,330.76 432.55,332.32 434.21,333.91 435.86,335.51 437.51,337.14 439.17,338.78 440.82,340.45 442.47,342.14 444.12,343.84 445.78,345.57 447.43,347.32 449.08,349.09 450.74,350.88 452.39,352.69 454.04,354.52 455.70,356.37 457.35,358.25 459.00,360.14 460.66,362.06 462.31,364.00 463.96,365.96 465.62,367.94 467.27,369.94 468.92,371.97 470.57,374.02 472.23,376.08 473.88,378.18 475.53,380.29 477.19,382.42 478.84,384.58 480.49,386.76 482.15,388.97 483.80,391.19" fill="none" stroke="#dc38e0" stroke-width="2.1" stroke-dasharray="11 10"/>
<polyline points="220.95,254.45 222.60,254.47 224.26,254.50 225.91,254.53 227.56,254.57 229.22,254.61 230.87,254.66 232.52,254.71 234.18,254.76 235.83,254.83 237.48,254.90 239.13,254.97 240.79,255.05 242.44,255.14 244.09,255.24 245.75,255.34 247.40,255.46 249.05,255.57 250.71,255.70 252.36,255.84 254.01,255.98 255.67,256.14 257.32,256.30 258.97,256.47 260.63,256.66 262.28,256.85 263.93,257.05 265.58,257.27 267.24,257.49 268.89,257.73 270.54,257.97 272.20,258.23 273.85,258.50 275.50,258.78 277.16,259.08 278.81,259.38 280.46,259.70 282.12,260.03 283.77,260.37 285.42,260.73 287.08,261.10 288.73,261.49 290.38,261.88 292.04,262.30 293.69,262.72 295.34,263.16 296.99,263.62 298.65,264.09 300.30,264.57 301.95,265.07 303.61,265.59 305.26,266.12 306.91,266.66 308.57,267.23 310.22,267.80 311.87,268.40 313.53,269.01 315.18,269.64 316.83,270.28 318.49,270.94 320.14,271.62 321.79,272.31 323.44,273.02 325.10,273.75 326.75,274.50 328.40,275.26 330.06,276.04 331.71,276.84 333.36,277.66 335.02,278.49 336.67,279.35 338.32,280.22 339.98,281.11 341.63,282.02 343.28,282.95 344.94,283.90 346.59,284.86 348.24,285.85 349.90,286.85 351.55,287.88 353.20,288.92 354.85,289.98 356.51,291.07 358.16,292.17 359.81,293.29 361.47,294.43 363.12,295.60 364.77,296.78 366.43,297.98 368.08,299.20 369.73,300.45 371.39,301.71 373.04,302.99 374.69,304.30 376.35,305.62 378.00,306.97 379.65,308.34 381.31,309.72 382.96,311.13 384.61,312.56 386.26,314.01 387.92,315.48 389.57,316.97 391.22,318.49 392.88,320.02 394.53,321.58 396.18,323.16 397.84,324.76 399.49,326.38 401.14,328.02 402.80,329.68 404.45,331.37 406.10,333.07 407.76,334.80 409.41,336.55 411.06,338.32 412.71,340.12 414.37,341.93 416.02,343.77 417.67,345.63 419.33,347.51 420.98,349.41 422.63,351.34 424.29,353.28 425.94,355.25 427.59,357.24 429.25,359.25 430.90,361.28 432.55,363.34 434.21,365.42 435.86,367.52 437.51,369.64 439.17,371.78 440.82,373.95 442.47,376.14 444.12,378.34 445.78,380.58 447.43,382.83 449.08,385.10 450.74,387.40 452.39,389.72 454.04,392.06 455.70,394.42 457.35,396.81 459.00,399.22 460.66,401.64 462.31,404.09 463.96,406.57 465.62,409.06 467.27,411.58 468.92,414.11 470.57,416.67 472.23,419.25 473.88,421.86 475.53,424.48 477.19,427.13 478.84,429.79 480.49,432.48 482.15,435.19 483.80,437.92" fill="none" stroke="#dca850" stroke-width="2.1" stroke-dasharray="5 4.4"/>
</g>
<line x1="216.95" y1="254.35" x2="220.95" y2="254.35" stroke="#6e6e6e" stroke-width="1.1"/>
<text transform="translate(205.76,258.05) scale(1.0400,1)" fill="#2e2e2e" ><tspan y="0.00" font-family='"Liberation Sans", sans-serif' font-size="13.0">0</tspan></text>
<line x1="218.95" y1="266.59" x2="220.95" y2="266.59" stroke="#6e6e6e" stroke-width="1.1"/>
<line x1="216.95" y1="278.83" x2="220.95" y2="278.83" stroke="#6e6e6e" stroke-width="1.1"/>
<text transform="translate(201.41,282.53) scale(1.0400,1)" fill="#2e2e2e" ><tspan y="0.00" font-family='"Liberation Sans", sans-serif' font-size="13.0">-2</tspan></text>
<line x1="218.95" y1="291.07" x2="220.95" y2="291.07" stroke="#6e6e6e" stroke-width="1.1"/>
<line x1="216.95" y1="303.31" x2="220.95" y2="303.31" stroke="#6e6e6e" stroke-width="1.1"/>
<text transform="translate(201.12,307.01) scale(1.0400,1)" fill="#2e2e2e" ><tspan y="0.00" font-family='"Liberation Sans", sans-serif' font-size="13.0">-4</tspan></text>
<line x1="218.95" y1="315.55" x2="220.95" y2="315.55" stroke="#6e6e6e" stroke-width="1.1"/>
<line x1="216.95" y1="327.79" x2="220.95" y2="327.79" stroke="#6e6e6e" stroke-width="1.1"/>
<text transform="translate(201.32,331.49) scale(1.0400,1)" fill="#2e2e2e" ><tspan y="0.00" font-family='"Liberation Sans", sans-serif' font-size="13.0">-6</tspan></text>
<line x1="218.95" y1="340.03" x2="220.95" y2="340.03" stroke="#6e6e6e" stroke-width="1.1"/>
<line x1="216.95" y1="352.27" x2="220.95" y2="352.27" stroke="#6e6e6e" stroke-width="1.1"/>
<text transform="translate(201.32,355.97) scale(1.0400,1)" fill="#2e2e2e" ><tspan y="0.00" font-family='"Liberation Sans", sans-serif' font-size="13.0">-8</tspan></text>
<line x1="218.95" y1="364.52" x2="220.95" y2="364.52" stroke="#6e6e6e" stroke-width="1.1"/>
<line x1="216.95" y1="376.76" x2="220.95" y2="376.76" stroke="#6e6e6e" stroke-width="1.1"/>
<text transform="translate(193.74,380.46) scale(1.0400,1)" fill="#2e2e2e" ><tspan y="0.00" font-family='"Liberation Sans", sans-serif' font-size="13.0">-10</tspan></text>
<line x1="218.95" y1="389.00" x2="220.95" y2="389.00" stroke="#6e6e6e" stroke-width="1.1"/>
<line x1="216.95" y1="401.24" x2="220.95" y2="401.24" stroke="#6e6e6e" stroke-width="1.1"/>
<text transform="translate(193.89,404.94) scale(1.0400,1)" fill="#2e2e2e" ><tspan y="0.00" font-family='"Liberation Sans", sans-serif' font-size="13.0">-12</tspan></text>
<line x1="218.95" y1="413.48" x2="220.95" y2="413.48" stroke="#6e6e6e" stroke-width="1.1"/>
<line x1="216.95" y1="425.72" x2="220.95" y2="425.72" stroke="#6e6e6e" stroke-width="1.1"/>
<text transform="translate(193.61,429.42) scale(1.0400,1)" fill="#2e2e2e" ><tspan y="0.00" font-family='"Liberation Sans", sans-serif' font-size="13.0">-14</tspan></text>
<line x1="218.95" y1="437.96" x2="220.95" y2="437.96" stroke="#6e6e6e" stroke-width="1.1"/>
<line x1="216.95" y1="450.20" x2="220.95" y2="450.20" stroke="#6e6e6e" stroke-width="1.1"/>
<text transform="translate(193.80,453.90) scale(1.0400,1)" fill="#2e2e2e" ><tspan y="0.00" font-family='"Liberation Sans", sans-serif' font-size="13.0">-16</tspan></text>
<line x1="220.95" y1="450.2" x2="220.95" y2="452.2" stroke="#6e6e6e" stroke-width="1.1"/>
<line x1="242.85" y1="450.2" x2="242.85" y2="454.2" stroke="#6e6e6e" stroke-width="1.1"/>
<text transform="translate(233.53,467.10) scale(1.0400,1)" fill="#2e2e2e" ><tspan y="0.00" font-family='"Liberation Sans", sans-serif' font-size="13.0">0.2</tspan></text>
<line x1="264.76" y1="450.2" x2="264.76" y2="452.2" stroke="#6e6e6e" stroke-width="1.1"/>
<line x1="286.66" y1="450.2" x2="286.66" y2="454.2" stroke="#6e6e6e" stroke-width="1.1"/>
<text transform="translate(277.20,467.10) scale(1.0400,1)" fill="#2e2e2e" ><tspan y="0.00" font-family='"Liberation Sans", sans-serif' font-size="13.0">0.4</tspan></text>
<line x1="308.57" y1="450.2" x2="308.57" y2="452.2" stroke="#6e6e6e" stroke-width="1.1"/>
<line x1="330.47" y1="450.2" x2="330.47" y2="454.2" stroke="#6e6e6e" stroke-width="1.1"/>
<text transform="translate(321.11,467.10) scale(1.0400,1)" fill="#2e2e2e" ><tspan y="0.00" font-family='"Liberation Sans", sans-serif' font-size="13.0">0.6</tspan></text>
<line x1="352.38" y1="450.2" x2="352.38" y2="452.2" stroke="#6e6e6e" stroke-width="1.1"/>
<line x1="374.28" y1="450.2" x2="374.28" y2="454.2" stroke="#6e6e6e" stroke-width="1.1"/>
<text transform="translate(364.91,467.10) scale(1.0400,1)" fill="#2e2e2e" ><tspan y="0.00" font-family='"Liberation Sans", sans-serif' font-size="13.0">0.8</tspan></text>
<line x1="396.18" y1="450.2" x2="396.18" y2="452.2" stroke="#6e6e6e" stroke-width="1.1"/>
<line x1="418.09" y1="450.2" x2="418.09" y2="454.2" stroke="#6e6e6e" stroke-width="1.1"/>
<text transform="translate(408.44,467.10) scale(1.0400,1)" fill="#2e2e2e" ><tspan y="0.00" font-family='"Liberation Sans", sans-serif' font-size="13.0">1.0</tspan></text>
<line x1="439.99" y1="450.2" x2="439.99" y2="452.2" stroke="#6e6e6e" stroke-width="1.1"/>
<line x1="461.90" y1="450.2" x2="461.90" y2="454.2" stroke="#6e6e6e" stroke-width="1.1"/>
<text transform="translate(452.32,467.10) scale(1.0400,1)" fill="#2e2e2e" ><tspan y="0.00" font-family='"Liberation Sans", sans-serif' font-size="13.0">1.2</tspan></text>
<line x1="483.80" y1="450.2" x2="483.80" y2="452.2" stroke="#6e6e6e" stroke-width="1.1"/>
<text transform="translate(311.95,46.80)" fill="#2e2e2e" letter-spacing="1.45" ><tspan y="0.00" font-family='"Liberation Sans", sans-serif' font-size="12.2">(a)</tspan></text>
<text transform="translate(609.59,45.00)" fill="#2e2e2e" letter-spacing="1.25" style="stroke-width:0.1px"><tspan y="0.00" font-family='"Liberation Sans", sans-serif' font-size="11.9">(b)</tspan></text>
<text transform="translate(464.36,268.00)" fill="#2e2e2e" letter-spacing="1.1" style="stroke-width:0.45px"><tspan y="0.00" font-family='"Liberation Sans", sans-serif' font-size="11.9">(c)</tspan></text>
<rect x="72.4" y="176.6" width="121.40" height="49.30" fill="#fff" stroke="#a8a8a8" stroke-width="1"/>
<line x1="73" y1="185.40" x2="106.1" y2="185.40" stroke="#40da40" stroke-width="2"/>
<line x1="73" y1="201.40" x2="106.1" y2="201.40" stroke="#dc38e0" stroke-width="2" stroke-dasharray="11 10"/>
<line x1="73" y1="217.40" x2="106.6" y2="217.40" stroke="#dca850" stroke-width="2" stroke-dasharray="5 4.4"/>
<text transform="translate(112.57,189.70) scale(1.0962,1)" fill="#2e2e2e" ><tspan y="0.00" font-family='"Liberation Sans", sans-serif' font-size="12.8">r = 0.5 nm</tspan></text>
<text transform="translate(112.56,205.50) scale(1.1017,1)" fill="#2e2e2e" ><tspan y="0.00" font-family='"Liberation Sans", sans-serif' font-size="12.8">r = 0.502 nm</tspan></text>
<text transform="translate(112.56,220.90) scale(1.1017,1)" fill="#2e2e2e" ><tspan y="0.00" font-family='"Liberation Sans", sans-serif' font-size="12.8">r = 0.504 nm</tspan></text>
<rect x="371.3" y="174.3" width="114.90" height="49.20" fill="#fff" stroke="#a8a8a8" stroke-width="1"/>
<line x1="372.2" y1="183.20" x2="404.4" y2="183.20" stroke="#40da40" stroke-width="2"/>
<line x1="372.2" y1="199.00" x2="404.4" y2="199.00" stroke="#dc38e0" stroke-width="2" stroke-dasharray="11 10"/>
<line x1="372.2" y1="214.80" x2="404.4" y2="214.80" stroke="#dca850" stroke-width="2" stroke-dasharray="5 4.4"/>
<text transform="translate(408.05,186.90) scale(1.0955,1)" fill="#2e2e2e" ><tspan y="0.00" font-family='"Liberation Sans", sans-serif' font-size="12.8">R = 15.9 nm</tspan></text>
<text transform="translate(408.05,202.90) scale(1.0937,1)" fill="#2e2e2e" ><tspan y="0.00" font-family='"Liberation Sans", sans-serif' font-size="12.8">R = 16 nm</tspan></text>
<text transform="translate(408.05,218.80) scale(1.0955,1)" fill="#2e2e2e" ><tspan y="0.00" font-family='"Liberation Sans", sans-serif' font-size="12.8">R = 16.1 nm</tspan></text>
<rect x="224.3" y="393.4" width="93.80" height="53.20" fill="#fff" stroke="#a8a8a8" stroke-width="1"/>
<line x1="225.8" y1="402.90" x2="258" y2="402.90" stroke="#40da40" stroke-width="2"/>
<line x1="225.8" y1="420.60" x2="258" y2="420.60" stroke="#dc38e0" stroke-width="2" stroke-dasharray="9.6 10.6"/>
<line x1="225.8" y1="437.80" x2="258" y2="437.80" stroke="#dca850" stroke-width="2" stroke-dasharray="4.4 5"/>
<text transform="translate(265.70,407.30) scale(1.1037,1)" fill="#2e2e2e" ><tspan y="0.00" font-family='"Liberation Serif", serif' font-size="12.5">τ = </tspan><tspan y="0.00" font-family='"Liberation Sans", sans-serif' font-size="12.5">6 ps</tspan></text>
<text transform="translate(265.70,424.60) scale(1.1037,1)" fill="#2e2e2e" ><tspan y="0.00" font-family='"Liberation Serif", serif' font-size="12.5">τ = </tspan><tspan y="0.00" font-family='"Liberation Sans", sans-serif' font-size="12.5">8 ps</tspan></text>
<text transform="translate(265.60,442.00) scale(1.1054,1)" fill="#2e2e2e" ><tspan y="0.00" font-family='"Liberation Serif", serif' font-size="12.5">τ =</tspan><tspan y="0.00" font-family='"Liberation Sans", sans-serif' font-size="12.5">10 ps</tspan></text>
<text transform="translate(316.96,485.50) scale(1.1217,1)" fill="#2e2e2e" ><tspan y="0.00" font-family='"Liberation Sans", sans-serif' font-size="16">h</tspan><tspan y="0.00" font-family='"Liberation Serif", serif' font-size="16.5">ω</tspan><tspan y="0.00" font-family='"Liberation Sans", sans-serif' font-size="16"> (eV)</tspan></text>
<g transform="translate(36.6,177.8) rotate(-90)"><text x="0.00" y="0.00" font-family='"Liberation Serif", serif' font-size="17" fill="#2e2e2e" textLength="9.3" lengthAdjust="spacingAndGlyphs" style="stroke-width:0.1px">χ</text><text x="8.90" y="-8.10" font-family='"Liberation Serif", serif' font-size="9.5" fill="#2e2e2e" textLength="12" lengthAdjust="spacingAndGlyphs" style="stroke-width:0.1px">(1)</text><text x="9.10" y="3.80" font-family='"Liberation Serif", serif' font-size="10.5" fill="#2e2e2e" textLength="12.9" lengthAdjust="spacingAndGlyphs">φφ</text><text x="22.40" y="7.30" font-family='"Liberation Sans", sans-serif' font-size="7" fill="#2e2e2e" >R</text><text x="27.70" y="0.00" font-family='"Liberation Serif", serif' font-size="16.3" fill="#2e2e2e" >(ω)</text><text x="50.1" y="0" font-family='"Liberation Sans", sans-serif' font-size="16.3" fill="#2e2e2e" letter-spacing="0.22">(m<tspan y="-8.2" font-size="10.7">2</tspan><tspan y="0">/V</tspan><tspan y="-8.2" font-size="10.7">2</tspan><tspan y="0">)</tspan></text></g>
<g transform="translate(183.0,396.9) rotate(-90)"><text x="0.00" y="0.00" font-family='"Liberation Serif", serif' font-size="17" fill="#2e2e2e" textLength="9.3" lengthAdjust="spacingAndGlyphs" style="stroke-width:0.1px">χ</text><text x="8.90" y="-8.10" font-family='"Liberation Serif", serif' font-size="9.5" fill="#2e2e2e" textLength="12" lengthAdjust="spacingAndGlyphs" style="stroke-width:0.1px">(1)</text><text x="9.10" y="3.80" font-family='"Liberation Serif", serif' font-size="10.5" fill="#2e2e2e" textLength="12.9" lengthAdjust="spacingAndGlyphs">φφ</text><text x="22.40" y="7.30" font-family='"Liberation Sans", sans-serif' font-size="7" fill="#2e2e2e" >R</text><text x="27.70" y="0.00" font-family='"Liberation Serif", serif' font-size="16.3" fill="#2e2e2e" >(ω)</text><text x="50.1" y="0" font-family='"Liberation Sans", sans-serif' font-size="16.3" fill="#2e2e2e" letter-spacing="0.22">(m<tspan y="-8.2" font-size="10.7">2</tspan><tspan y="0">/V</tspan><tspan y="-8.2" font-size="10.7">2</tspan><tspan y="0">)</tspan></text></g>
</svg>
</body></html>
